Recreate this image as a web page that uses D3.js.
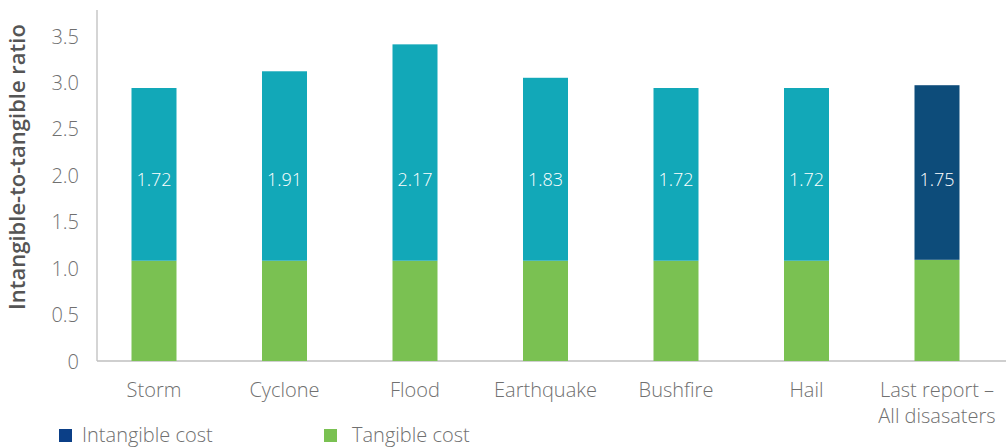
<!DOCTYPE html>
<html><head><meta charset="utf-8">
<script src="https://cdn.jsdelivr.net/npm/d3@7"></script>
<style>body{margin:0;background:#fff}svg{display:block}text{font-family:"Open Sans",sans-serif}</style>
</head><body><svg id="c" width="1006" height="448"></svg>
<script>
const categories = ["Storm","Cyclone","Flood","Earthquake","Bushfire","Hail","Last report –\nAll disasaters"];
const tangible = [1.08,1.08,1.08,1.08,1.08,1.08,1.09];
const intangible = [1.86,2.04,2.33,1.97,1.86,1.86,1.88];
const ratioLabels = ["1.72","1.91","2.17","1.83","1.72","1.72","1.75"];
const yTicks = [0,0.5,1,1.5,2,2.5,3,3.5];
const tickLabels = ["0","0.5","1.0","1.5","2.0","2.5","3.0","3.5"];
const legendItems = ["Intangible cost","Tangible cost"];

const svg = d3.select("#c");
const x = d3.scalePoint().domain(categories).range([154,937]);
const y = d3.scaleLinear().domain([0,3.5]).range([361,36]);
const bw = 45;
const teal = "#12a8b8", navy = "#0d4c7a", green = "#7ac152";
const txt = "#707070";

svg.append("line").attr("x1",97).attr("x2",97).attr("y1",10).attr("y2",y(0)).attr("stroke","#bfbfbf").attr("stroke-width",1.3);
svg.append("line").attr("x1",97).attr("x2",1006).attr("y1",y(0)).attr("y2",y(0)).attr("stroke","#bfbfbf").attr("stroke-width",1.3);

const yAxis = d3.axisLeft(y).tickValues(yTicks).tickFormat((d,i)=>tickLabels[i]).tickSize(0).tickPadding(0);
const ga = svg.append("g").attr("transform","translate(79,0)").call(yAxis);
ga.select(".domain").remove();
ga.selectAll("text").attr("font-size",20).attr("fill",txt).attr("font-weight",300).attr("font-family","'Open Sans',sans-serif").attr("dy","0.35em");

const g = svg.append("g");
categories.forEach((c,i)=>{
  const cx = x(c);
  g.append("rect").attr("x",cx-bw/2).attr("width",bw).attr("y",y(tangible[i])).attr("height",y(0)-y(tangible[i])).attr("fill",green);
  const top = tangible[i]+intangible[i];
  g.append("rect").attr("x",cx-bw/2).attr("width",bw).attr("y",y(top)).attr("height",y(tangible[i])-y(top)).attr("fill", i===categories.length-1?navy:teal);
  g.append("text").attr("x",cx).attr("y",y(1.95)).attr("dy","0.35em").attr("text-anchor","middle").attr("font-size",18).attr("font-weight",300).attr("fill","#fff").text(ratioLabels[i]);
  const lines = c.split("\n");
  const t = g.append("text").attr("text-anchor","middle").attr("font-size",20).attr("font-weight",300).attr("fill",txt);
  lines.forEach((l,j)=>t.append("tspan").attr("x",cx).attr("y",397+j*26).text(l));
});

svg.append("text").attr("transform","translate(25,167) rotate(-90)").attr("text-anchor","middle").attr("font-size",22).attr("font-weight",600).attr("fill","#555").text("Intangible-to-tangible ratio");

const lx = [59,324], lc = ["#0b3f87",green];
legendItems.forEach((l,i)=>{
  svg.append("rect").attr("x",lx[i]).attr("y",429).attr("width",13).attr("height",13).attr("fill",lc[i]);
  svg.append("text").attr("x",lx[i]+(i===0?23:28)).attr("y",442).attr("font-size",20).attr("font-weight",300).attr("fill",txt).text(l);
});
</script></body></html>
